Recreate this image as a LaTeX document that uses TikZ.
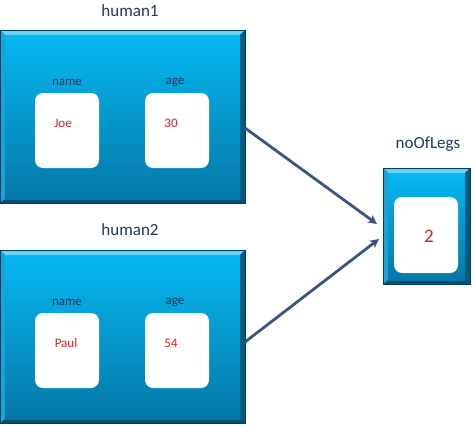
\documentclass[tikz,border=0pt]{standalone}
\usepackage{fontspec}
\setmainfont{Carlito}
\usetikzlibrary{arrows.meta}
\definecolor{navy}{HTML}{1F3864}
\definecolor{lblue}{HTML}{1A3A5C}
\definecolor{redt}{HTML}{E8192C}
\definecolor{arrowc}{HTML}{3A5583}
\definecolor{facetop}{HTML}{06B8F2}
\definecolor{facebot}{HTML}{0478A8}
\definecolor{bevtopc}{HTML}{63D4F6}
\definecolor{bevleftc}{HTML}{1AA4D6}
\definecolor{bevrightc}{HTML}{055A80}
\definecolor{bevbotc}{HTML}{044E70}
\tikzset{
  outerbox/.style={fill=bevbotc, draw=none, inner sep=0pt, outer sep=0pt},
  whitebox/.style={fill=white, draw=none, rounded corners=8pt, minimum width=64pt, inner sep=0pt},
  title/.style={text=navy, font=\fontsize{17}{20}\selectfont},
  field/.style={text=lblue, font=\fontsize{13}{15}\selectfont},
  val/.style={text=redt, font=\fontsize{13}{15}\selectfont},
  conn/.style={draw=arrowc, line width=2.8pt, -{Stealth[length=9pt,width=9pt]}}
}
\newcommand\bevbox[5]{%
  \node[outerbox, minimum width=#4pt, minimum height=#5pt] (#1) at (#2,#3) {};
  \fill[bevtopc] (#1.north west) -- (#1.north east) -- ([shift={(-5pt,-5pt)}]#1.north east) -- ([shift={(5pt,-5pt)}]#1.north west) -- cycle;
  \fill[bevleftc] (#1.north west) -- ([shift={(5pt,-5pt)}]#1.north west) -- ([shift={(5pt,4pt)}]#1.south west) -- (#1.south west) -- cycle;
  \fill[bevrightc] (#1.north east) -- ([shift={(-5pt,-5pt)}]#1.north east) -- ([shift={(-5pt,4pt)}]#1.south east) -- (#1.south east) -- cycle;
  \shade[top color=facetop, bottom color=facebot] ([shift={(5pt,-5pt)}]#1.north west) rectangle ([shift={(-5pt,4pt)}]#1.south east);
  \draw[bevbotc!80!black, line width=0.6pt] (#1.north west) rectangle (#1.south east);
}
\begin{document}
\begin{tikzpicture}[x=1pt, y=-1pt]
\useasboundingbox (0,0) rectangle (474,426);
% human1
\node[title] (t1) at (130,11) {human1};
\bevbox{h1}{122.5}{116.5}{245}{173}
\node[field] (n1l) at (67,82) {name};
\node[field] (a1l) at (175,82) {age};
\node[whitebox, minimum height=75pt] (n1) at (67,130.5) {};
\node[whitebox, minimum height=75pt] (a1) at (177,130.5) {};
\node[val] (n1v) at (63,123) {Joe};
\node[val] (a1v) at (171,123) {30};
% human2
\node[title] (t2) at (130,230) {human2};
\bevbox{h2}{122.5}{336.5}{245}{173}
\node[field] (n2l) at (67,302) {name};
\node[field] (a2l) at (175,302) {age};
\node[whitebox, minimum height=75pt] (n2) at (67,350.5) {};
\node[whitebox, minimum height=75pt] (a2) at (177,350.5) {};
\node[val] (n2v) at (66,343) {Paul};
\node[val] (a2v) at (171,343) {54};
% noOfLegs
\node[title] (t3) at (428,144) {noOfLegs};
\bevbox{lg}{426.5}{226}{87}{116}
\node[whitebox, minimum height=76pt] (lw) at (426,235) {};
\node[text=redt, font=\fontsize{19}{22}\selectfont] (lv) at (429,236) {2};
% arrows
\draw[conn] ([yshift=-11.5pt]h1.east) -- ([shift={(-6pt,2pt)}]lg.west);
\draw[conn] ([yshift=-5.5pt]h2.east) -- ([shift={(-4pt,-13pt)}]lg.west);
\end{tikzpicture}
\end{document}
